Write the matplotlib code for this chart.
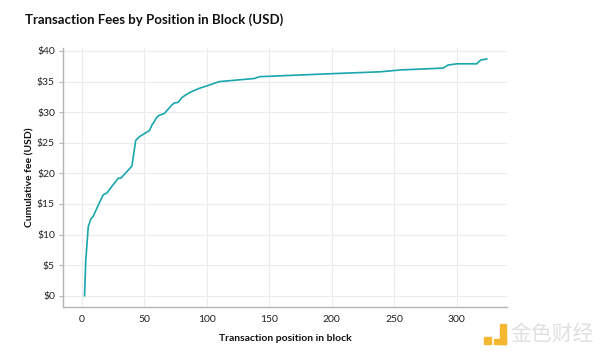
import matplotlib
matplotlib.use("Agg")
import matplotlib.pyplot as plt
from matplotlib.patches import Rectangle

# 区块内交易位置 与 累计手续费
positions = [2, 3, 5, 7, 9, 13, 17, 20, 24, 29, 31, 36, 40, 41, 43, 46, 54, 56, 57,
             60, 62, 66, 72, 74, 77, 80, 86, 94, 100, 110, 138, 142, 201, 239, 255,
             289, 293, 300, 316, 319, 324]
cum_fee = [0, 5.8, 11.3, 12.5, 13, 14.8, 16.5, 16.8, 17.9, 19.2, 19.2, 20.3, 21.2, 22.7,
           25.4, 26, 27, 27.9, 28.2, 29.2, 29.5, 29.8, 31.2, 31.5, 31.6, 32.4, 33.2,
           33.9, 34.3, 35.0, 35.5, 35.8, 36.3, 36.6, 36.9, 37.2, 37.7, 37.9, 37.9,
           38.5, 38.7]
y_ticks = [0, 5, 10, 15, 20, 25, 30, 35, 40]
x_ticks = [0, 50, 100, 150, 200, 250, 300]

plt.rcParams["font.family"] = ["Lato", "DejaVu Sans"]

fig = plt.figure(figsize=(6, 3.55), dpi=100)
ax = fig.add_axes([0.1055, 0.136, 0.739, 0.729])

ax.plot(positions, cum_fee, color="#1aa6ad", lw=1.2)

ax.set_xlim(-15, 340)
ax.set_ylim(-1.8, 40.5)
ax.set_xticks(x_ticks)
ax.set_yticks(y_ticks)
ax.set_yticklabels([f"${v}" for v in y_ticks])
ax.grid(True, color="#ececec", lw=0.8)
ax.set_axisbelow(True)
for s in ("top", "right"):
    ax.spines[s].set_visible(False)
for s in ("left", "bottom"):
    ax.spines[s].set_color("#b5b5b5")
    ax.spines[s].set_linewidth(1.0)
ax.tick_params(axis="both", labelsize=7.5, colors="#b5b5b5", labelcolor="#222222")
ax.tick_params(axis="x", length=0, pad=6)
ax.tick_params(axis="y", length=3, pad=3)

ax.set_xlabel("Transaction position in block", fontsize=7.5, fontweight="bold",
              color="#111111", labelpad=7)
ax.set_ylabel("Cumulative fee (USD)", fontsize=7.5, fontweight="bold",
              color="#111111", labelpad=2)

fig.text(0.042, 0.944, "Transaction Fees by Position in Block (USD)", fontsize=9.5,
         fontweight="bold", color="#111111", va="center", ha="left")

# 水印
fig.patches.append(Rectangle((484 / 600, 1 - 344 / 355), 7 / 600, 7 / 355,
                             transform=fig.transFigure, color="#f5b731"))
fig.patches.append(Rectangle((494 / 600, 1 - 344 / 355), 12 / 600, 5 / 355,
                             transform=fig.transFigure, color="#f5b731"))
fig.patches.append(Rectangle((500 / 600, 1 - 344 / 355), 6 / 600, 20 / 355,
                             transform=fig.transFigure, color="#f5b731"))
fig.text(510 / 600, 1 - 334 / 355, "金色财经", fontsize=15, color="#e0e0e0",
         family=["Noto Sans CJK SC", "DejaVu Sans"], va="center", ha="left")

fig.savefig("out.png", dpi=100)
